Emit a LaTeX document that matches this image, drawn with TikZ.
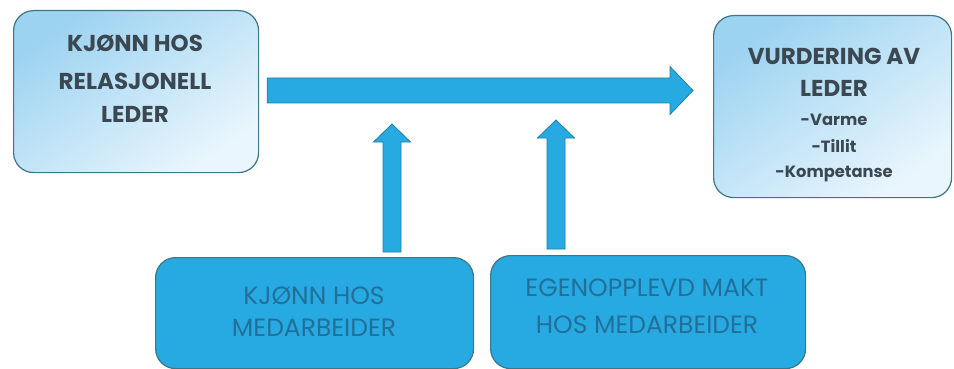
\documentclass[tikz,border=0pt]{standalone}
\usepackage{fontspec}
\setmainfont{Poppins}
\usetikzlibrary{calc}
\definecolor{arrowblue}{HTML}{27A9E1}
\definecolor{arrowline}{HTML}{1F7FAA}
\definecolor{boxline}{HTML}{3D7689}
\definecolor{gradA}{HTML}{9CD3F1}
\definecolor{gradB}{HTML}{EAF6FD}
\definecolor{toptext}{HTML}{3B4852}
\definecolor{bottext}{HTML}{22709A}
\tikzset{
  topbox/.style={draw=boxline, line width=1.2pt, rounded corners=20pt,
    top color=gradA, bottom color=gradB, shading angle=35, anchor=north west, inner sep=0pt},
  botbox/.style={draw=boxline, line width=1.2pt, rounded corners=20pt,
    fill=arrowblue, anchor=north west, inner sep=0pt},
  blockarrow/.style={fill=arrowblue, draw=arrowline, line width=0.8pt, line join=miter},
  toptxt/.style={text=toptext, font=\fontsize{23}{26}\selectfont\bfseries, anchor=base, inner sep=0pt},
  smalltxt/.style={text=toptext, font=\fontsize{16.3}{19}\selectfont\bfseries, anchor=base, inner sep=0pt},
  bottxt/.style={text=bottext, font=\fontsize{25}{28}\selectfont, anchor=base, inner sep=0pt}
}
\begin{document}
\begin{tikzpicture}[x=1pt,y=-1pt]
\useasboundingbox (0,0) rectangle (954,369);
% boxes
\node[topbox, minimum width=245pt, minimum height=162pt] (L) at (13,10) {};
\node[topbox, minimum width=238pt, minimum height=182pt] (R) at (713,15) {};
\node[botbox, minimum width=318pt, minimum height=111pt] (B1) at (155,257) {};
\node[botbox, minimum width=315pt, minimum height=113pt] (B2) at (490,255) {};
% texts
\node[toptxt] at (135,52) {KJØNN HOS};
\node[toptxt] at (135,89) {RELASJONELL};
\node[toptxt] at (135,123) {LEDER};
\node[toptxt] at (834,65) {VURDERING AV};
\node[toptxt] at (834,97) {LEDER};
\node[smalltxt] at (834,125) {-Varme};
\node[smalltxt] at (834,152) {-Tillit};
\node[smalltxt] at (834,177) {-Kompetanse};
\node[bottxt] at (314,304) {KJØNN HOS};
\node[bottxt] at (314,336) {MEDARBEIDER};
\node[bottxt] at (647,296) {EGENOPPLEVD MAKT};
\node[bottxt] at (647,333) {HOS MEDARBEIDER};
% horizontal block arrow from L to R
\coordinate (hs) at ($(L.north east)+(8,80.5)$);
\coordinate (ht) at ($(R.north west)+(-20,75.5)$);
\draw[blockarrow] ($(hs)+(0,-12.5)$) -- ($(ht)+(-23,-12.5)$) -- ($(ht)+(-23,-24)$) -- (ht)
  -- ($(ht)+(-23,24)$) -- ($(ht)+(-23,12.5)$) -- ($(hs)+(0,12.5)$) -- cycle;
% vertical block arrows
\coordinate (v1s) at ($(B1.north west)+(237,-5)$);
\coordinate (v1t) at (392,124);
\draw[blockarrow] ($(v1s)+(-9,0)$) -- ($(v1t)+(-9,18)$) -- ($(v1t)+(-18.5,18)$) -- (v1t)
  -- ($(v1t)+(18.5,18)$) -- ($(v1t)+(9,18)$) -- ($(v1s)+(9,0)$) -- cycle;
\coordinate (v2s) at ($(B2.north west)+(66,-6)$);
\coordinate (v2t) at (556,120);
\draw[blockarrow] ($(v2s)+(-9,0)$) -- ($(v2t)+(-9,18)$) -- ($(v2t)+(-18.5,18)$) -- (v2t)
  -- ($(v2t)+(18.5,18)$) -- ($(v2t)+(9,18)$) -- ($(v2s)+(9,0)$) -- cycle;
\end{tikzpicture}
\end{document}
